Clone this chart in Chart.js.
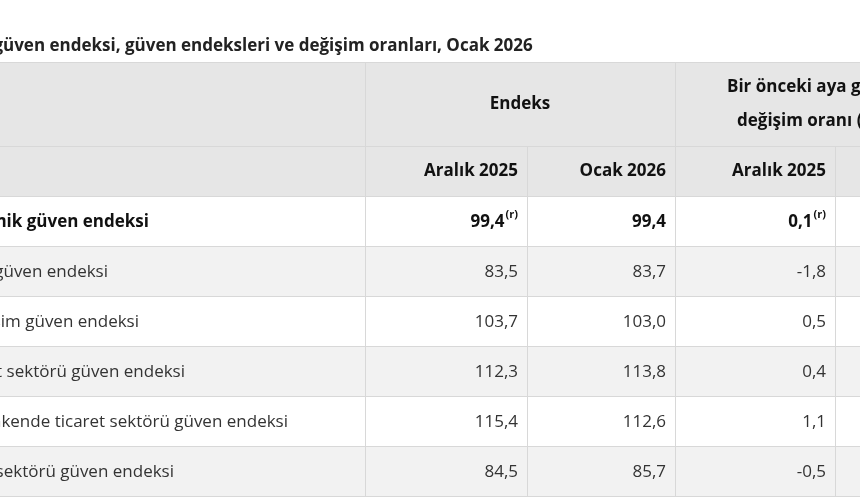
<!DOCTYPE html>
<html lang="tr">
<head>
<meta charset="UTF-8">
<title>Güven endeksleri</title>
<script src="https://cdn.jsdelivr.net/npm/chart.js"></script>
<style>
  body { margin: 0; background: #fff; }
  #wrap { width: 860px; height: 504px; }
</style>
</head>
<body>
<div id="wrap"><canvas id="tbl"></canvas></div>
<script>
const title = 'Ekonomik güven endeksi, güven endeksleri ve değişim oranları, Ocak 2026';
const groupHeaders = ['Endeks', 'Bir önceki aya göre', 'değişim oranı (%)'];
const periods = ['Aralık 2025', 'Ocak 2026', 'Aralık 2025'];
const rowLabels = [
    'Ekonomik güven endeksi',
    'Tüketici güven endeksi',
    'Reel kesim güven endeksi',
    'Hizmet sektörü güven endeksi',
    'Perakende ticaret sektörü güven endeksi',
    'İnşaat sektörü güven endeksi'
];
const endeksAralik = [99.4, 83.5, 103.7, 112.3, 115.4, 84.5];
const endeksOcak = [99.4, 83.7, 103.0, 113.8, 112.6, 85.7];
const degisimAralik = [0.1, -1.8, 0.5, 0.4, 1.1, -0.5];
const revised = [[true, false, true], [], [], [], [], []];

// layout (pixels in the 860x504 frame)
const colEdges = [365, 527, 675, 835];
const labelEnds = [149, 108, 139, 185, 288, 174];
const headTop = 62, head2Top = 146, bodyTop = 196, rowH = 50;

const fmt = v => v.toFixed(1).replace('.', ',');
const FONT = '"Open Sans", "Noto Sans", sans-serif';

const tablePlugin = {
    id: 'table',
    afterDraw(chart) {
        const ctx = chart.ctx;
        const sx = chart.scales.x, sy = chart.scales.y;
        const X = v => sx.getPixelForValue(v), Y = v => sy.getPixelForValue(v);
        ctx.save();
        // title
        ctx.fillStyle = '#222';
        ctx.font = 'bold 17px ' + FONT;
        ctx.textBaseline = 'alphabetic';
        ctx.textAlign = 'left';
        ctx.fillText(title, X(0) - ctx.measureText('Ekonomik g').width + 3, Y(51));
        // header background
        ctx.fillStyle = '#e6e6e6';
        ctx.fillRect(X(0), Y(headTop), X(860) - X(0), Y(bodyTop) - Y(headTop));
        // body rows
        rowLabels.forEach((_, i) => {
            ctx.fillStyle = i % 2 ? '#f2f2f2' : '#ffffff';
            ctx.fillRect(X(0), Y(bodyTop + i * rowH), X(860) - X(0), rowH);
        });
        // grid lines
        ctx.strokeStyle = '#d8d8d8';
        ctx.lineWidth = 1;
        const hline = (y, x0, x1) => { ctx.beginPath(); ctx.moveTo(X(x0), Y(y) + 0.5); ctx.lineTo(X(x1), Y(y) + 0.5); ctx.stroke(); };
        const vline = (x, y0, y1) => { ctx.beginPath(); ctx.moveTo(X(x) + 0.5, Y(y0)); ctx.lineTo(X(x) + 0.5, Y(y1)); ctx.stroke(); };
        hline(headTop, 0, 860);
        hline(head2Top, 0, 860);
        for (let i = 0; i <= rowLabels.length; i++) hline(bodyTop + i * rowH, 0, 860);
        vline(colEdges[0], headTop, bodyTop + rowLabels.length * rowH);
        vline(colEdges[2], headTop, bodyTop + rowLabels.length * rowH);
        vline(colEdges[1], head2Top, bodyTop + rowLabels.length * rowH);
        vline(colEdges[3], head2Top, bodyTop + rowLabels.length * rowH);
        // group headers
        ctx.fillStyle = '#111';
        ctx.font = 'bold 17px ' + FONT;
        ctx.textBaseline = 'middle';
        ctx.textAlign = 'center';
        ctx.fillText(groupHeaders[0], X((colEdges[0] + colEdges[2]) / 2), Y(104));
        ctx.textAlign = 'left';
        ctx.fillText(groupHeaders[1], X(727), Y(87));
        ctx.fillText(groupHeaders[2], X(737), Y(121));
        // period headers
        ctx.textAlign = 'right';
        periods.forEach((p, j) => ctx.fillText(p, X(colEdges[j + 1] - 9), Y(171)));
        // body
        const cols = [endeksAralik, endeksOcak, degisimAralik];
        rowLabels.forEach((lab, i) => {
            const yc = Y(bodyTop + i * rowH + 26);
            const bold = i === 0;
            ctx.fillStyle = bold ? '#111' : '#333';
            ctx.font = (bold ? 'bold ' : '') + '17px ' + FONT;
            ctx.textAlign = 'right';
            ctx.fillText(lab, X(labelEnds[i]), yc);
            cols.forEach((arr, j) => {
                let xr = X(colEdges[j + 1] - 9);
                if (revised[i][j]) {
                    ctx.font = 'bold 11px ' + FONT;
                    ctx.fillText('(r)', xr, yc - 7);
                    xr -= ctx.measureText('(r)').width + 1;
                    ctx.font = (bold ? 'bold ' : '') + '17px ' + FONT;
                }
                ctx.fillText(fmt(arr[i]), xr, yc);
            });
        });
        ctx.restore();
    }
};

new Chart(document.getElementById('tbl'), {
    type: 'scatter',
    data: { datasets: [{ data: [] }] },
    options: {
        responsive: true,
        maintainAspectRatio: false,
        animation: false,
        layout: { padding: 0 },
        plugins: { legend: { display: false }, tooltip: { enabled: false } },
        scales: {
            x: { type: 'linear', min: 0, max: 860, display: false },
            y: { type: 'linear', min: 0, max: 504, reverse: true, display: false }
        }
    },
    plugins: [tablePlugin]
});
</script>
</body>
</html>
